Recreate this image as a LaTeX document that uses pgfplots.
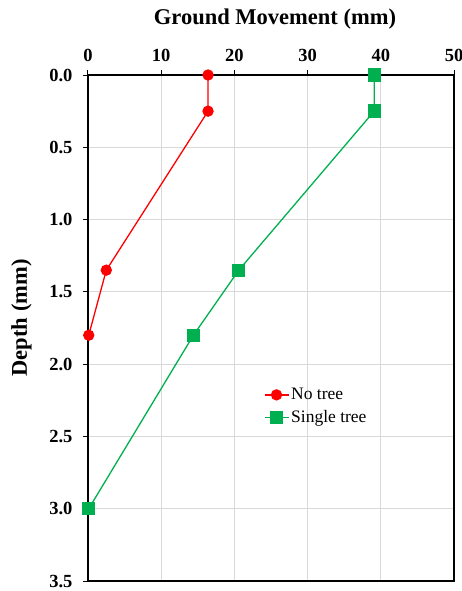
\documentclass[border=0pt]{standalone}
\usepackage{pgfplots}
\pgfplotsset{compat=1.18}
\usepackage{fontspec}
\setmainfont{Liberation Serif}
\definecolor{myred}{HTML}{FF0000}
\definecolor{mygreen}{HTML}{00B050}
\definecolor{gridgray}{HTML}{D9D9D9}
\begin{document}
\begin{tikzpicture}
\begin{axis}[
  scale only axis,
  width=366pt, height=506pt,
  xmin=0, xmax=50, ymin=0, ymax=3.5,
  y dir=reverse,
  xtick={0,10,20,30,40,50},
  ytick={0,0.5,1,1.5,2,2.5,3,3.5},
  xtick pos=upper,
  xticklabel pos=upper,
  ytick pos=left,
  yticklabel pos=left,
  tick align=outside,
  major tick length=5pt,
  tick style={black, line width=1pt},
  axis line style={black, line width=1.2pt},
  grid=major,
  major grid style={gridgray, line width=0.8pt},
  /pgf/number format/assume math mode=true,
  ticklabel style={font=\bfseries\fontsize{18.5}{18.5}\selectfont},
  yticklabel style={xshift=-7pt, /pgf/number format/fixed, /pgf/number format/fixed zerofill, /pgf/number format/precision=1},
  xticklabel style={yshift=5pt},
  xlabel={Ground Movement (mm)},
  ylabel={Depth (mm)},
  every axis x label/.style={at={(axis description cs:0.5,1)}, anchor=base, yshift=50pt, xshift=4pt, font=\bfseries\fontsize{22.5}{22.5}\selectfont},
  every axis y label/.style={at={([xshift=-61pt]axis description cs:0,0.52)}, rotate=90, anchor=base, font=\bfseries\fontsize{22.5}{22.5}\selectfont},
  legend style={draw=none, fill=none, at={(axis description cs:0.48,0.385)}, anchor=north west, font=\fontsize{17.5}{17.5}\selectfont, row sep=5pt, inner sep=0pt},
  legend cell align=left,
  legend image code/.code={\draw[mark repeat=2,mark phase=2] plot coordinates {(0pt,0pt) (12pt,0pt) (24pt,0pt)};},
]
\addplot[myred, line width=1.3pt, mark=*, mark size=5pt, mark options={solid, fill=myred, draw=myred}]
  coordinates {(16.4,0) (16.4,0.25) (2.5,1.35) (0.1,1.8)};
\addlegendentry{No tree}
\addplot[mygreen, line width=1.3pt, mark=square*, mark size=6pt, mark options={solid, fill=mygreen, draw=mygreen}]
  coordinates {(39.1,0) (39.1,0.25) (20.6,1.35) (14.4,1.8) (0.1,3.0)};
\addlegendentry{Single tree}
\end{axis}
\pgfresetboundingbox
\path[use as bounding box] (-88pt,-10pt) rectangle (374pt,581pt);
\end{tikzpicture}
\end{document}
